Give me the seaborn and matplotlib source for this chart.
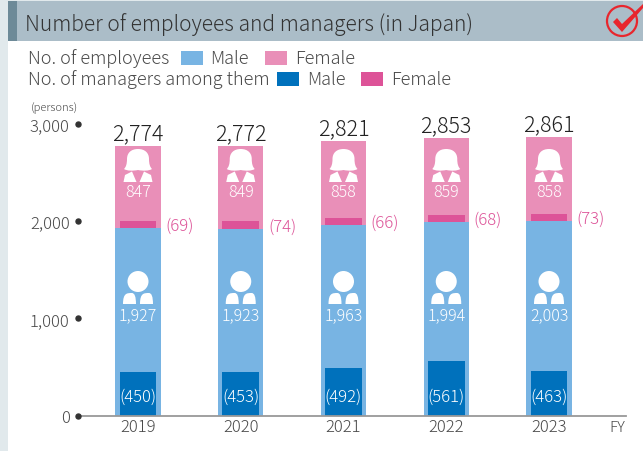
import pandas as pd
import matplotlib
matplotlib.use('Agg')
import matplotlib.pyplot as plt
from matplotlib.patches import Rectangle, Circle, Polygon, PathPatch
from matplotlib.path import Path
import seaborn as sns

years = ['2019', '2020', '2021', '2022', '2023']
totals = [2774, 2772, 2821, 2853, 2861]
male = [1927, 1923, 1963, 1994, 2003]
female = [847, 849, 858, 859, 858]
mgr_male = [450, 453, 492, 561, 463]
mgr_female = [69, 74, 66, 68, 73]
y_ticks = [0, 1000, 2000, 3000]
y_labels = ['0', '1,000', '2,000', '3,000']

LBLUE = '#78b4e3'
LPINK = '#e98fb8'
DBLUE = '#0071bc'
DPINK = '#dd5398'
TXT = '#4a4a4a'
W, H = 643, 452

sns.set_theme(style='white')
plt.rcParams['font.family'] = ['Noto Sans CJK JP', 'DejaVu Sans']
plt.rcParams['font.weight'] = 'light'

df = pd.DataFrame({'fy': years, 'total': totals, 'male': male, 'female': female,
                   'mgr_male': mgr_male, 'mgr_female': mgr_female})

fig = plt.figure(figsize=(W / 100, H / 100), dpi=100, facecolor='white')

# pixel overlay for the page furniture
bg = fig.add_axes([0, 0, 1, 1], zorder=0)
bg.set_xlim(0, W)
bg.set_ylim(H, 0)
bg.axis('off')
bg.add_patch(Rectangle((0, 0), 8, H, color='#e1e9ec', lw=0))
bg.add_patch(Rectangle((0, 0), W, 2, color='#e1e9ec', lw=0))
bg.add_patch(Rectangle((8, 2), W - 8, 40, color='#abbdc8', lw=0))
bg.add_patch(Rectangle((8, 2), 9, 40, color='#6d8a98', lw=0))
bg.text(25, 25, 'Number of employees and managers (in Japan)', fontsize=15.1, color='#333333', va='center')

# legend rows
bg.text(28, 59, 'No. of employees', fontsize=13, color=TXT, va='center')
bg.add_patch(Rectangle((181, 52), 22, 14, color=LBLUE, lw=0))
bg.text(210, 59, 'Male', fontsize=13, color=TXT, va='center')
bg.add_patch(Rectangle((265, 52), 22, 14, color=LPINK, lw=0))
bg.text(295, 59, 'Female', fontsize=13, color=TXT, va='center')
bg.text(28, 80, 'No. of managers among them', fontsize=13, color=TXT, va='center')
bg.add_patch(Rectangle((277, 73), 22, 14, color=DBLUE, lw=0))
bg.text(307, 80, 'Male', fontsize=13, color=TXT, va='center')
bg.add_patch(Rectangle((361, 73), 22, 14, color=DPINK, lw=0))
bg.text(391, 80, 'Female', fontsize=13, color=TXT, va='center')
bg.text(31, 108, '(persons)', fontsize=8, color=TXT, va='center')

# check mark badge
bg.add_patch(Circle((622, 22), 15, fill=False, ec='#e8262d', lw=1.6))
bg.add_patch(Polygon([(613, 23), (617, 19), (622, 25), (643, 5), (643, 9), (622, 33)],
                     closed=True, color='#e8262d', lw=0))

# chart axes, placed so the data scale lands on the same pixels
x0, x1 = 78, 626
y_top, y_bot = 124.7, 416.7
ax = fig.add_axes([x0 / W, 1 - y_bot / H, (x1 - x0) / W, (y_bot - y_top) / H], zorder=1)
ax.patch.set_alpha(0)
bw_outer = 0.438
bw_inner = 0.36
flat = dict(saturation=1, ax=ax, errorbar=None, linewidth=0)

sns.barplot(data=df, x='fy', y='male', color=LBLUE, width=bw_outer, **flat)
sns.barplot(data=df, x='fy', y='female', bottom=df['male'], color=LPINK, width=bw_outer, **flat)
sns.barplot(data=df, x='fy', y='mgr_male', color=DBLUE, width=bw_inner, **flat)
sns.barplot(data=df, x='fy', y='mgr_female', bottom=df['male'], color=DPINK, width=bw_inner, **flat)

step = 102.75
ax.set_xlim((x0 - 138) / step, (x1 - 138) / step)
ax.set_ylim(0, 3000)
ax.set_xlabel('')
ax.set_ylabel('')
sns.despine(ax=ax, left=True, top=True, right=True)
ax.spines['bottom'].set_color('#999999')
ax.spines['bottom'].set_linewidth(1.3)
ax.set_yticks(y_ticks)
ax.set_yticklabels(y_labels, fontsize=12, color=TXT)
ax.tick_params(axis='y', length=0, pad=6)
ax.tick_params(axis='x', length=0, pad=2, labelsize=12, labelcolor=TXT)
ax.plot([(x0 - 138) / step] * 4, y_ticks, ls='none', marker='o', ms=3.6, color='#333333', clip_on=False, zorder=5)

# overlay above the bars for the icons
top = fig.add_axes([0, 0, 1, 1], zorder=2)
top.set_xlim(0, W)
top.set_ylim(H, 0)
top.axis('off')


def woman(cx, cy):
    # cy is the top of the hair in pixels
    hair = Path([(cx, cy),
                 (cx + 7, cy), (cx + 11, cy + 4), (cx + 11, cy + 10),
                 (cx + 11, cy + 15), (cx + 12, cy + 18), (cx + 14, cy + 20),
                 (cx + 11, cy + 22), (cx + 5, cy + 22), (cx, cy + 21),
                 (cx - 5, cy + 22), (cx - 11, cy + 22), (cx - 14, cy + 20),
                 (cx - 12, cy + 18), (cx - 11, cy + 15), (cx - 11, cy + 10),
                 (cx - 11, cy + 4), (cx - 7, cy), (cx, cy)],
                [Path.MOVETO] + [Path.CURVE4] * 18)
    top.add_patch(PathPatch(hair, fc='white', ec='none'))
    top.add_patch(Polygon([(cx - 14.5, cy + 33), (cx - 13, cy + 26), (cx - 6, cy + 22.5), (cx - 1.5, cy + 33)],
                          closed=True, fc='white', ec='none'))
    top.add_patch(Polygon([(cx + 14.5, cy + 33), (cx + 13, cy + 26), (cx + 6, cy + 22.5), (cx + 1.5, cy + 33)],
                          closed=True, fc='white', ec='none'))


def man(cx, cy):
    # cy is the top of the head in pixels
    top.add_patch(Circle((cx, cy + 10.5), 10.5, fc='white', ec='none'))
    for left in (cx - 15, cx + 2):
        body = Path([(left, cy + 33), (left, cy + 22), (left + 4, cy + 22), (left + 9, cy + 22),
                     (left + 13, cy + 22), (left + 13, cy + 33), (left, cy + 33)],
                    [Path.MOVETO, Path.CURVE4, Path.CURVE4, Path.CURVE4, Path.CURVE3, Path.CURVE3, Path.CLOSEPOLY])
        top.add_patch(PathPatch(body, fc='white', ec='none'))


for i in range(len(years)):
    cx = 138 + step * i
    man(cx, 272)
    woman(cx, 150)
    ax.text(i, totals[i] + 130, f'{totals[i]:,}', ha='center', va='center', fontsize=15.5, color='#222222')
    top.text(cx, 316, f'{male[i]:,}', ha='center', va='center', fontsize=11.5, color='white')
    top.text(cx, 192.5, f'{female[i]:,}', ha='center', va='center', fontsize=11.5, color='white')
    top.text(cx, 397, f'({mgr_male[i]})', ha='center', va='center', fontsize=12, color='white')
    ax.text(i + 0.265, male[i] + 25, f'({mgr_female[i]})', ha='left', va='center', fontsize=12, color=DPINK)

top.text(617, 428, 'FY', ha='center', va='center', fontsize=11, color=TXT)

fig.savefig('out.png', dpi=100)
